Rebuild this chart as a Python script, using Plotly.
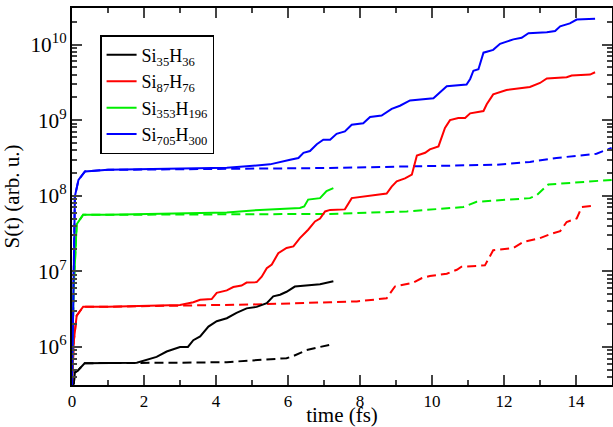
import plotly.graph_objects as go

# Si35H36
bk_sol_x = [0.0, 0.05, 0.08, 0.15, 0.35, 1.0, 1.8, 2.35, 2.63, 3.0, 3.22, 3.37, 3.56, 3.79, 4.02, 4.3, 4.57, 4.85, 5.13, 5.41, 5.59, 5.78, 5.96, 6.19, 6.52, 6.89, 7.26]
bk_sol_y = [3.0e5, 3.3e5, 4.6e5, 4.8e5, 6.1e5, 6.1e5, 6.2e5, 7.4e5, 8.7e5, 1.0e6, 1.0e6, 1.23e6, 1.38e6, 1.86e6, 2.19e6, 2.4e6, 2.82e6, 3.24e6, 3.39e6, 3.8e6, 4.68e6, 4.9e6, 5.37e6, 6.3e6, 6.46e6, 6.76e6, 7.4e6]
bk_das_x = [0.0, 0.05, 0.08, 0.15, 0.35, 1.0, 1.8, 3.0, 4.3, 5.22, 5.96, 6.15, 6.52, 6.89, 7.17, 7.26]
bk_das_y = [3.0e5, 3.3e5, 4.6e5, 4.8e5, 6.1e5, 6.1e5, 6.15e5, 6.2e5, 6.3e5, 6.8e5, 7.1e5, 7.6e5, 9.1e5, 1.0e6, 1.07e6, 1.15e6]

# Si87H76
rd_sol_x = [0.0, 0.05, 0.13, 0.31, 1.0, 3.0, 3.37, 3.56, 3.88, 4.02, 4.3, 4.48, 4.71, 4.85, 5.13, 5.27, 5.41, 5.55, 5.73, 5.96, 6.15, 6.33, 6.56, 6.75, 6.89, 7.03, 7.17, 7.58, 7.77, 8.74, 8.88, 9.02, 9.25, 9.44, 9.58, 9.81, 9.94, 10.18, 10.36, 10.5, 10.73, 10.92, 11.06, 11.43, 11.52, 11.7, 12.07, 12.72, 13.0, 13.19, 13.74, 13.88, 14.39, 14.53]
rd_sol_y = [3.0e5, 1.2e6, 2.6e6, 3.4e6, 3.4e6, 3.6e6, 3.9e6, 4.2e6, 4.3e6, 5.2e6, 5.6e6, 6.2e6, 6.5e6, 7.1e6, 7.2e6, 8.5e6, 1.1e7, 1.23e7, 1.74e7, 2.04e7, 2.14e7, 2.75e7, 3.55e7, 4.57e7, 5.0e7, 6.2e7, 6.5e7, 6.6e7, 9.3e7, 1.07e8, 1.32e8, 1.55e8, 1.7e8, 1.9e8, 3.4e8, 3.7e8, 4.1e8, 4.5e8, 7.9e8, 1.0e9, 1.07e9, 1.07e9, 1.23e9, 1.32e9, 1.62e9, 2.19e9, 2.5e9, 2.75e9, 3.1e9, 3.55e9, 3.7e9, 3.9e9, 4.0e9, 4.3e9]
rd_das_x = [0.0, 0.05, 0.13, 0.31, 1.0, 3.0, 5.0, 7.17, 7.91, 8.74, 8.97, 9.48, 9.71, 9.94, 10.41, 10.69, 10.82, 11.47, 11.7, 12.26, 12.54, 13.0, 13.28, 13.56, 13.74, 14.02, 14.16, 14.53]
rd_das_y = [3.0e5, 1.2e6, 2.6e6, 3.4e6, 3.4e6, 3.5e6, 3.65e6, 3.9e6, 4.0e6, 4.4e6, 6.3e6, 7.1e6, 8.1e6, 8.7e6, 9.3e6, 1.05e7, 1.15e7, 1.2e7, 1.9e7, 2.04e7, 2.45e7, 2.75e7, 3.1e7, 3.4e7, 4.5e7, 5.0e7, 7.1e7, 7.4e7]

# Si353H196
gr_sol_x = [0.0, 0.04, 0.13, 0.31, 1.0, 4.3, 5.22, 6.33, 6.45, 6.56, 6.89, 7.07, 7.26]
gr_sol_y = [3.0e5, 5.0e6, 4.2e7, 5.6e7, 5.6e7, 6.0e7, 6.5e7, 6.9e7, 7.2e7, 8.9e7, 9.3e7, 1.15e8, 1.26e8]
gr_das_x = [0.0, 0.04, 0.13, 0.31, 1.0, 4.3, 7.17, 9.3, 10.87, 11.24, 12.72, 12.91, 13.23, 14.1, 14.99]
gr_das_y = [3.0e5, 5.0e6, 4.2e7, 5.6e7, 5.6e7, 5.7e7, 5.75e7, 6.2e7, 7.1e7, 8.3e7, 9.3e7, 1.02e8, 1.41e8, 1.51e8, 1.62e8]

# Si705H300
bl_sol_x = [0.0, 0.04, 0.08, 0.18, 0.36, 1.0, 4.3, 4.85, 5.5, 6.06, 6.29, 6.43, 6.61, 6.8, 6.98, 7.17, 7.35, 7.58, 7.77, 8.09, 8.28, 8.6, 8.88, 9.11, 9.39, 10.04, 10.22, 10.41, 10.96, 11.06, 11.15, 11.29, 11.43, 11.7, 11.89, 12.26, 12.49, 12.68, 13.19, 13.42, 13.56, 13.83, 14.02, 14.53]
bl_sol_y = [3.0e5, 1.0e7, 9.8e7, 1.62e8, 2.1e8, 2.2e8, 2.35e8, 2.45e8, 2.6e8, 3.0e8, 3.16e8, 3.7e8, 3.9e8, 4.8e8, 5.5e8, 5.5e8, 6.6e8, 7.1e8, 8.7e8, 9.1e8, 1.1e9, 1.15e9, 1.41e9, 1.55e9, 1.82e9, 1.95e9, 2.3e9, 2.8e9, 2.95e9, 3.5e9, 4.5e9, 4.7e9, 7.8e9, 8.5e9, 1.02e10, 1.17e10, 1.23e10, 1.41e10, 1.45e10, 1.51e10, 1.74e10, 1.9e10, 2.14e10, 2.2e10]
bl_das_x = [0.0, 0.04, 0.08, 0.18, 0.36, 1.0, 4.3, 7.17, 9.48, 11.8, 12.72, 13.46, 14.57, 14.99]
bl_das_y = [3.0e5, 1.0e7, 9.8e7, 1.62e8, 2.1e8, 2.2e8, 2.25e8, 2.33e8, 2.45e8, 2.57e8, 2.8e8, 3.16e8, 3.6e8, 4.3e8]

names = ["Si<sub>35</sub>H<sub>36</sub>", "Si<sub>87</sub>H<sub>76</sub>",
         "Si<sub>353</sub>H<sub>196</sub>", "Si<sub>705</sub>H<sub>300</sub>"]
colors = ["#000000", "#ff0000", "#00ee00", "#0000ff"]

solids = [(bk_sol_x, bk_sol_y), (rd_sol_x, rd_sol_y), (gr_sol_x, gr_sol_y), (bl_sol_x, bl_sol_y)]
dashes = [(bk_das_x, bk_das_y), (rd_das_x, rd_das_y), (gr_das_x, gr_das_y), (bl_das_x, bl_das_y)]

fig = go.Figure()
for (x, y), c in zip(dashes, colors):
    fig.add_trace(go.Scatter(x=x, y=y, mode="lines", showlegend=False,
                             line=dict(color=c, width=2, dash="9px,5px")))
for (x, y), c, n in zip(solids, colors, names):
    fig.add_trace(go.Scatter(x=x, y=y, mode="lines", name=n,
                             line=dict(color=c, width=2)))

FAM = "Liberation Serif, Times New Roman, Times, serif"
tfont = dict(family=FAM, size=17, color="black")
afont = dict(family=FAM, size=21, color="black")
fig.update_layout(
    width=613, height=427,
    margin=dict(l=72, r=1, t=8, b=42, autoexpand=False),
    paper_bgcolor="white", plot_bgcolor="white",
    font=tfont,
    legend=dict(x=0.052, y=0.928, xanchor="left", yanchor="top",
                bordercolor="black", borderwidth=1.5, bgcolor="white",
                font=dict(family=FAM, size=18, color="black"),
                tracegroupgap=0, itemwidth=30),
    xaxis=dict(range=[0, 15], dtick=2, tick0=0, ticks="inside", ticklen=10, tickwidth=1.5,
               showline=True, linecolor="black", linewidth=2, mirror="allticks",
               showgrid=False, zeroline=False, automargin=False,
               minor=dict(dtick=1, ticks="inside", ticklen=5, tickwidth=1.5, showgrid=False),
               title=dict(text="time (fs)", standoff=2, font=afont),
               tickfont=tfont),
    yaxis=dict(type="log", range=[5.497, 10.483], dtick=1, ticks="inside", ticklen=10, tickwidth=1.5,
               exponentformat="power", showexponent="all",
               showline=True, linecolor="black", linewidth=2, mirror="allticks",
               showgrid=False, zeroline=False, automargin=False,
               minor=dict(dtick="D1", ticks="inside", ticklen=5, tickwidth=1.5, showgrid=False),
               title=dict(text="S(t) (arb. u.)", standoff=8, font=afont),
               tickfont=tfont),
)
fig.write_html("out.html", config={"displayModeBar": False},
               post_script="document.body.style.margin='0';")
